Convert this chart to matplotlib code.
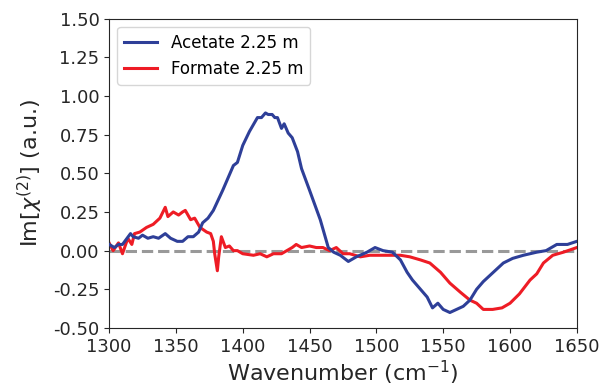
import matplotlib
matplotlib.use("Agg")
import matplotlib.pyplot as plt

wn_acetate = [1300, 1304, 1307, 1310, 1316, 1318, 1322, 1325, 1329, 1333, 1337, 1342, 1346,
              1351, 1355, 1359, 1363, 1367, 1370, 1374, 1378, 1385, 1393, 1396, 1400, 1405,
              1411, 1414, 1417, 1419, 1422, 1424, 1426, 1429, 1431, 1434, 1437, 1441, 1444,
              1450, 1458, 1464, 1468, 1473, 1479, 1485, 1493, 1499, 1505, 1512, 1518, 1523,
              1527, 1533, 1538, 1542, 1546, 1550, 1555, 1560, 1565, 1570, 1575, 1580, 1585,
              1590, 1595, 1602, 1610, 1620, 1627, 1635, 1643, 1650]
acetate = [0.04, 0.02, 0.04, 0.04, 0.11, 0.09, 0.08, 0.10, 0.08, 0.09, 0.08, 0.11, 0.08,
           0.06, 0.06, 0.09, 0.09, 0.12, 0.18, 0.21, 0.26, 0.39, 0.55, 0.57, 0.68, 0.77,
           0.86, 0.86, 0.89, 0.88, 0.88, 0.86, 0.86, 0.79, 0.82, 0.76, 0.73, 0.64, 0.53,
           0.39, 0.20, 0.02, -0.01, -0.03, -0.07, -0.04, -0.01, 0.02, 0.0, -0.01, -0.06, -0.14,
           -0.19, -0.25, -0.30, -0.37, -0.34, -0.38, -0.40, -0.38, -0.36, -0.32, -0.25, -0.20, -0.16,
           -0.12, -0.08, -0.05, -0.03, -0.01, 0.0, 0.04, 0.04, 0.06]

wn_formate = [1300, 1303, 1307, 1310, 1312, 1314, 1317, 1319, 1323, 1328, 1333, 1338, 1342,
              1344, 1348, 1352, 1355, 1357, 1361, 1364, 1368, 1373, 1376, 1378, 1379, 1381,
              1382, 1384, 1387, 1390, 1393, 1396, 1400, 1408, 1413, 1418, 1423, 1429, 1433,
              1437, 1440, 1444, 1450, 1455, 1460, 1465, 1470, 1475, 1480, 1488, 1495, 1503,
              1510, 1518, 1525, 1533, 1540, 1548, 1555, 1563, 1570, 1575, 1580, 1587, 1594,
              1600, 1607, 1615, 1620, 1625, 1632, 1640, 1650]
formate = [0.05, 0.0, 0.05, -0.02, 0.03, 0.08, 0.04, 0.11, 0.12, 0.15, 0.17, 0.21, 0.28,
           0.22, 0.25, 0.23, 0.25, 0.26, 0.20, 0.21, 0.15, 0.12, 0.11, 0.06, -0.02, -0.13,
           -0.04, 0.09, 0.02, 0.03, 0.0, 0.0, -0.02, -0.03, -0.02, -0.04, -0.02, -0.02, 0.0,
           0.02, 0.04, 0.02, 0.03, 0.02, 0.02, 0.0, 0.02, -0.02, -0.02, -0.04, -0.03, -0.03,
           -0.03, -0.03, -0.04, -0.06, -0.08, -0.14, -0.21, -0.27, -0.32, -0.34, -0.38, -0.38, -0.37,
           -0.34, -0.28, -0.19, -0.15, -0.08, -0.03, -0.01, 0.02]

labels = ["Acetate 2.25 m", "Formate 2.25 m"]

fig = plt.figure(figsize=(6.13, 3.87), dpi=100)
ax = fig.add_axes([0.178, 0.1525, 0.763, 0.7995])

ax.axhline(0, color="#999999", lw=2.2, ls="--", zorder=1)
ax.plot(wn_acetate, acetate, color="#2E3F98", lw=2.2, label=labels[0], zorder=3)
ax.plot(wn_formate, formate, color="#EE1C25", lw=2.2, label=labels[1], zorder=2)

ax.set_xlim(1300, 1650)
ax.set_ylim(-0.5, 1.5)
ax.set_xticks([1300, 1350, 1400, 1450, 1500, 1550, 1600, 1650])
ax.set_yticks([-0.5, -0.25, 0, 0.25, 0.5, 0.75, 1.0, 1.25, 1.5])
ax.yaxis.set_major_formatter(matplotlib.ticker.FormatStrFormatter("%.2f"))
ax.tick_params(labelsize=13, colors="#262626", labelcolor="#262626")
for s in ax.spines.values():
    s.set_color("#262626")
ax.set_xlabel(r"Wavenumber (cm$^{-1}$)", fontsize=16, color="#262626", labelpad=2)
ax.set_ylabel(r"Im[$\chi^{(2)}$] (a.u.)", fontsize=16, color="#262626", labelpad=6)

ax.legend(loc="upper left", fontsize=12, handlelength=2.0)

fig.savefig("out.png", dpi=100)
